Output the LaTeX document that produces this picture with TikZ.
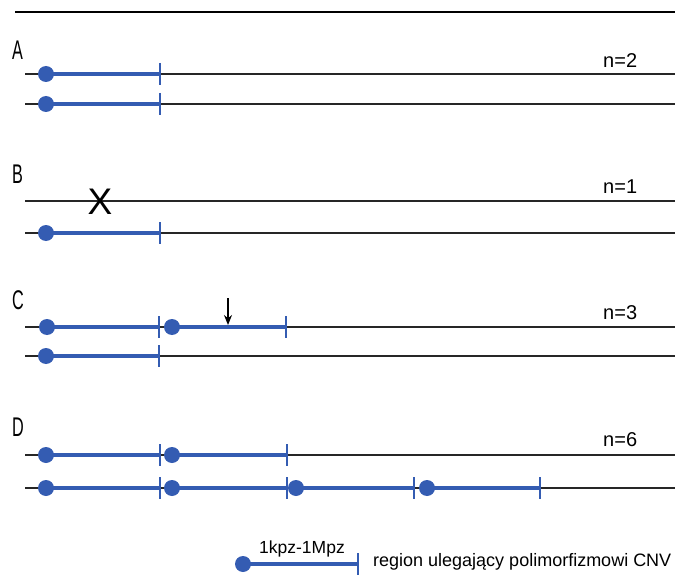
\documentclass[tikz,border=0pt]{standalone}
\usepackage{fontspec}
\setmainfont{Liberation Sans}
\newfontfamily\condfont[FakeStretch=0.6]{Liberation Sans}
\usetikzlibrary{arrows.meta}
\definecolor{cnvblue}{RGB}{52,92,178}
\begin{document}
\begin{tikzpicture}[x=1pt,y=-1pt,
  chrom/.style={line width=1.7pt,black!85},
  seg/.style={line width=3.8pt,cnvblue},
  tickm/.style={line width=2.6pt,cnvblue},
  dotm/.style={circle,fill=cnvblue,inner sep=0pt,minimum size=16pt},
  lbl/.style={font=\condfont\fontsize{27}{27}\selectfont,anchor=west,inner sep=0pt},
  nlbl/.style={font=\fontsize{20}{20}\selectfont,anchor=west,inner sep=0pt},
]
\useasboundingbox (0,0) rectangle (675,575);
\coordinate (t0) at (15,12); \coordinate (t1) at (675,12);
\draw[line width=1.4pt] (t0) -- (t1);
% generic macros
\newcommand{\chromline}[2]{\coordinate (#1s) at (25,#2); \coordinate (#1e) at (675,#2); \draw[chrom] (#1s) -- (#1e);}
\newcommand{\cnvseg}[4]{% name, xdot, xtick, y
  \coordinate (#1a) at (#2,#4); \coordinate (#1b) at (#3,#4);
  \draw[seg] (#1a) -- (#1b);
  \coordinate (#1t0) at (#3,#4-11); \coordinate (#1t1) at (#3,#4+11);
  \draw[tickm] (#1t0) -- (#1t1);
  \node[dotm] (#1d) at (#1a) {};}
% A
\node[lbl] (labA) at (12,50) {A};
\node[nlbl] (nA) at (603,61) {n=2};
\chromline{a1}{74} \cnvseg{a1x}{46}{160}{74}
\chromline{a2}{104} \cnvseg{a2x}{46}{160}{104}
% B
\node[lbl] (labB) at (12,174) {B};
\node[nlbl] (nB) at (603,187) {n=1};
\chromline{b1}{201}
\node[font=\fontsize{37}{37}\selectfont,inner sep=0pt] (X) at (100,202) {X};
\chromline{b2}{233} \cnvseg{b2x}{46}{160}{233}
% C
\node[lbl] (labC) at (12,300) {C};
\node[nlbl] (nC) at (603,313) {n=3};
\chromline{c1}{327} \cnvseg{c1x}{47}{159}{327} \cnvseg{c1y}{172}{286}{327}
\coordinate (arr0) at (228,298); \coordinate (arr1) at (228,325);
\draw[line width=1.4pt,-{Stealth[length=10pt,width=8pt]}] (arr0) -- (arr1);
\chromline{c2}{356} \cnvseg{c2x}{46}{159}{356}
% D
\node[lbl] (labD) at (12,427) {D};
\node[nlbl] (nD) at (603,440) {n=6};
\chromline{d1}{455} \cnvseg{d1x}{46}{160}{455} \cnvseg{d1y}{172}{287}{455}
\chromline{d2}{488} \cnvseg{d2x}{46}{160}{488} \cnvseg{d2y}{172}{287}{488}
\cnvseg{d2z}{296}{414}{488} \cnvseg{d2w}{427}{540}{488}
% legend
\cnvseg{lg}{243}{358}{564}
\node[font=\fontsize{17.5}{17.5}\selectfont,inner sep=0pt] (lgtop) at (302,549) {1kpz-1Mpz};
\node[font=\fontsize{18}{18}\selectfont,anchor=west,inner sep=0pt] (lgtxt) at (373,562) {region ulegający polimorfizmowi CNV};
\end{tikzpicture}
\end{document}
